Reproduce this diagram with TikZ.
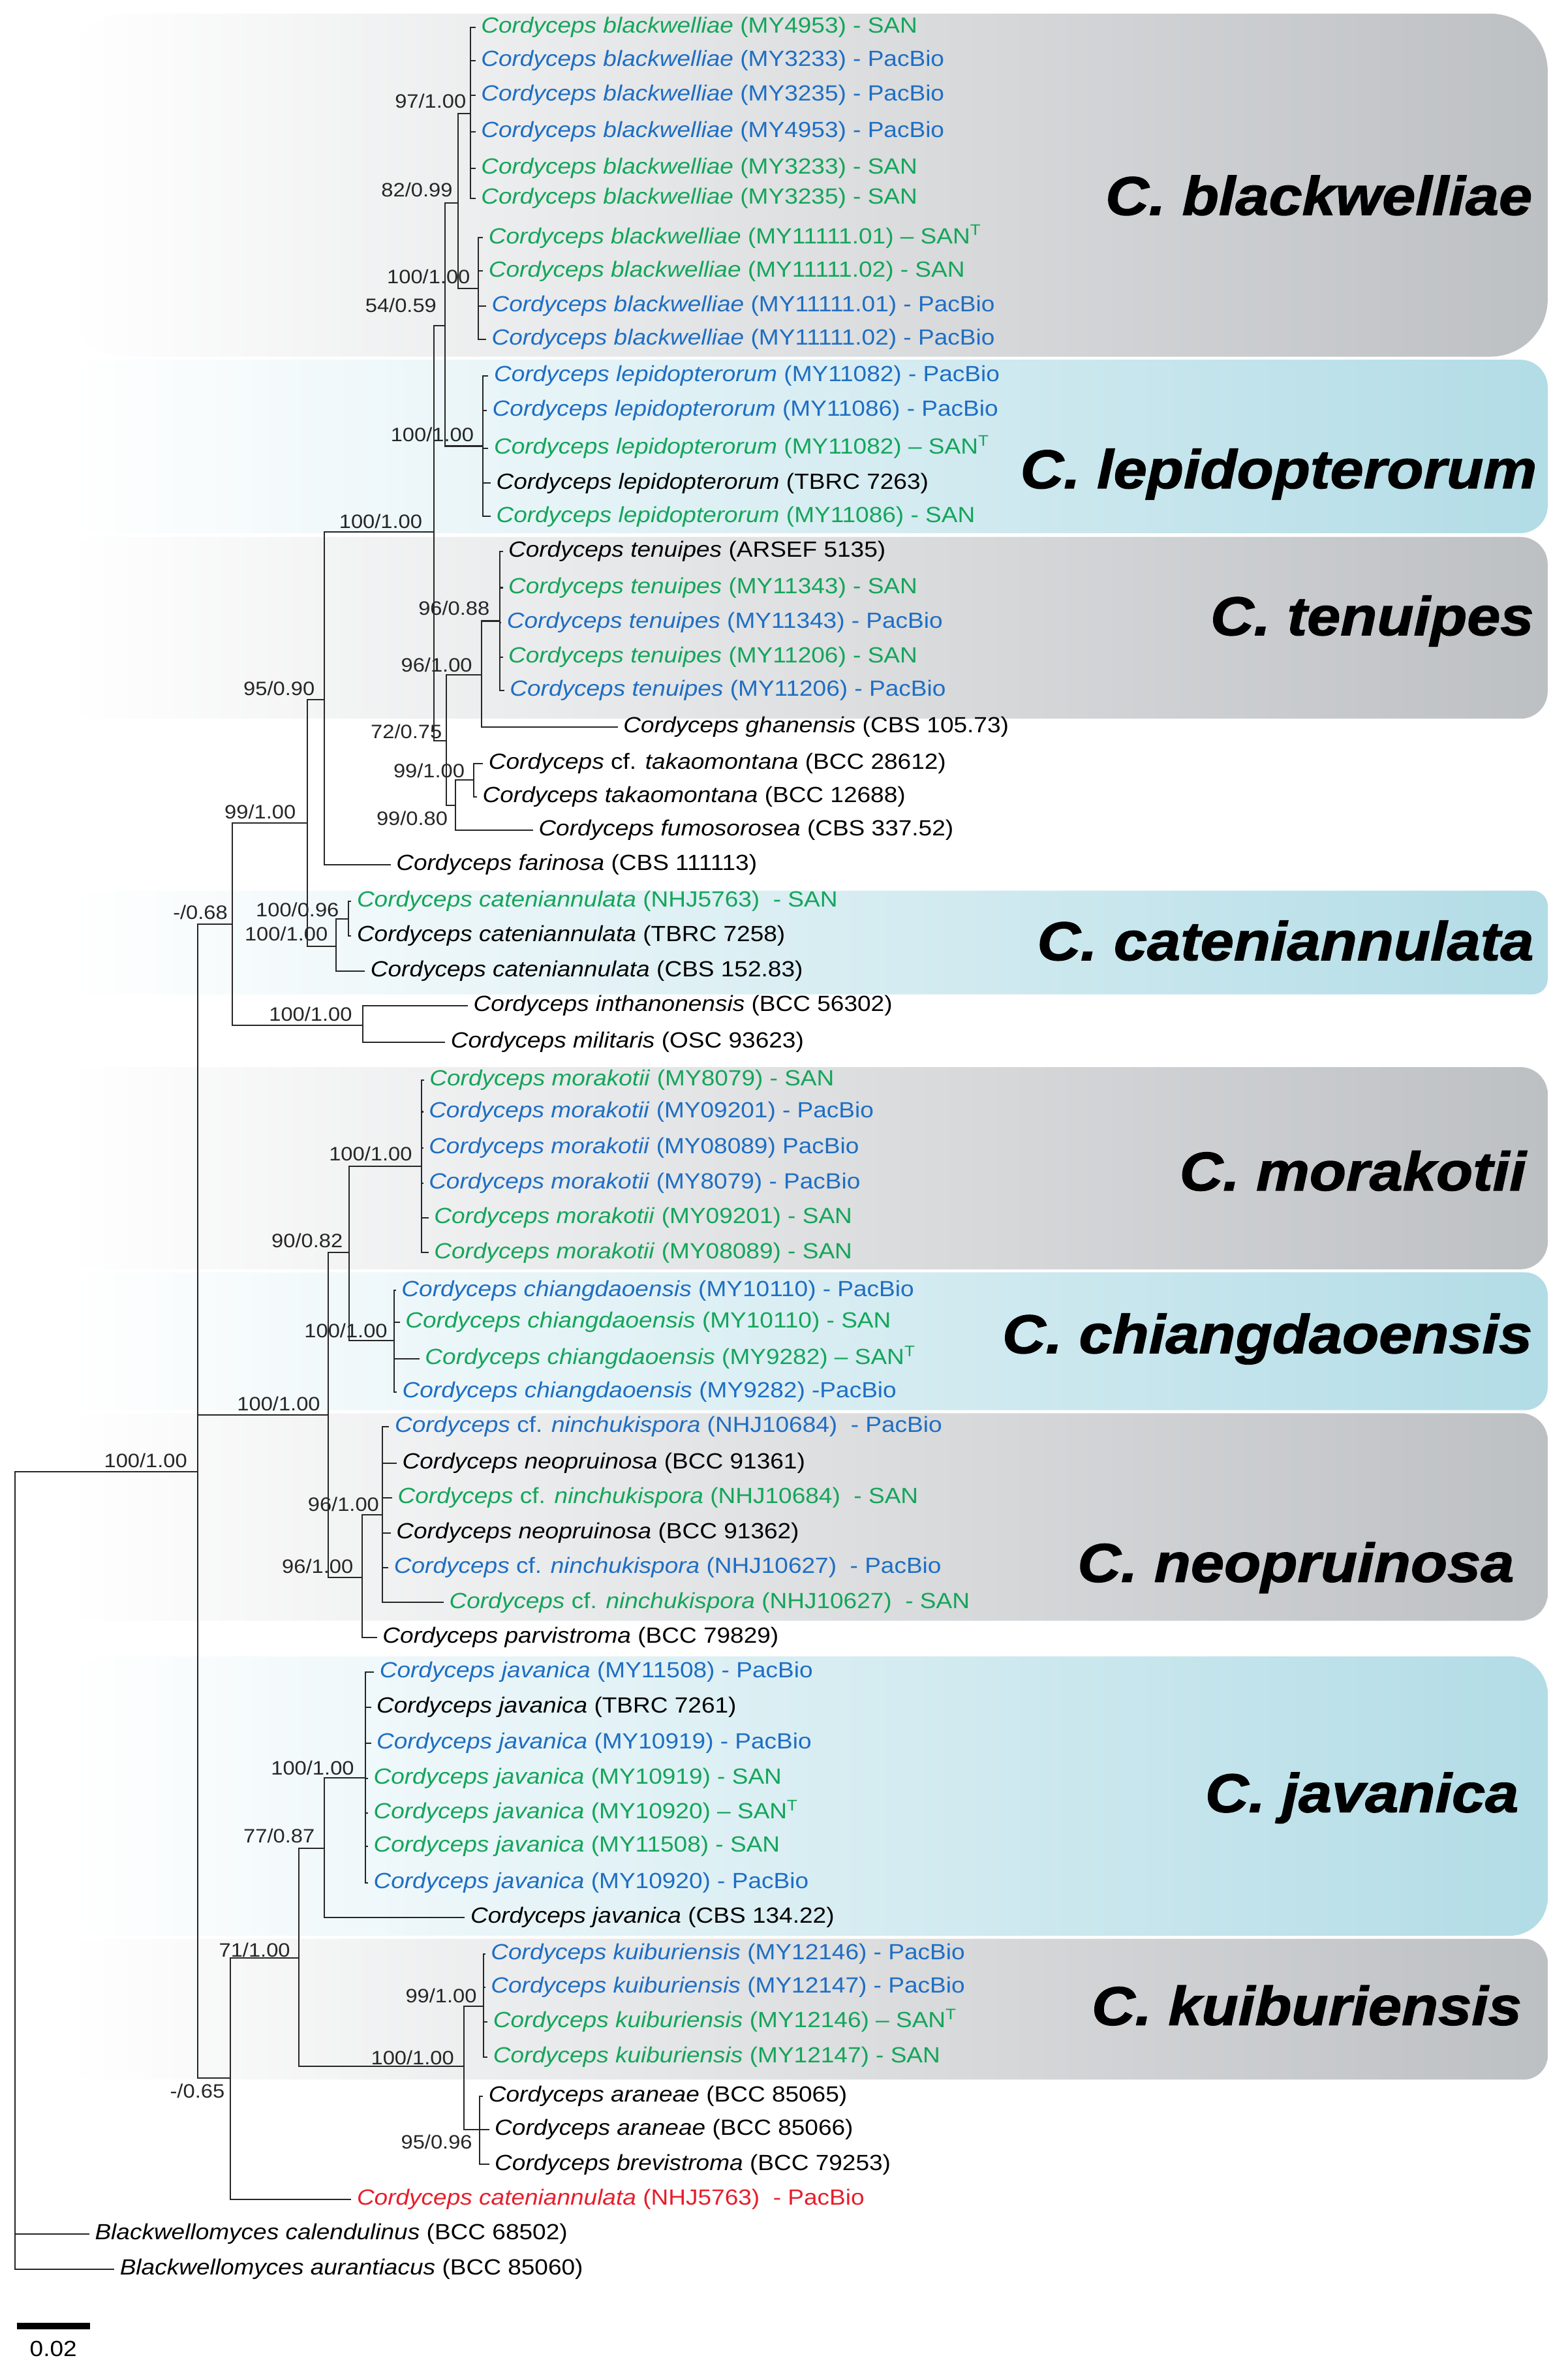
\documentclass[tikz,border=0pt]{standalone}
\usepackage{fontspec}
\setmainfont{Liberation Sans}[FakeStretch=1.1]
\newfontfamily\cladefont{Liberation Sans}[FakeStretch=1.1, FakeBold=1.6]
\usetikzlibrary{positioning}

\definecolor{sangreen}{RGB}{20,165,90}
\definecolor{pacblue}{RGB}{30,110,195}
\definecolor{oddred}{RGB}{230,30,45}
\definecolor{bandgray}{RGB}{189,192,195}
\definecolor{bandcyan}{RGB}{178,220,230}

\newcommand{\spn}[1]{\textit{Cordyceps #1}}
\newcommand{\cfn}[1]{\textit{Cordyceps} cf. \textit{#1}}

\tikzset{
  branch/.style={line width=0.9pt, draw=black!85},
  leaf/.style={anchor=west, inner xsep=3.5pt, inner ysep=0pt, text height=10.5pt, text depth=3pt,
    font=\fontsize{14.5}{16}\selectfont},
  san/.style={leaf, text=sangreen},
  pac/.style={leaf, text=pacblue},
  ref/.style={leaf, text=black},
  odd/.style={leaf, text=oddred},
  bs/.style={anchor=base east, inner sep=0pt, text=black!85, font=\fontsize{12.8}{14}\selectfont},
  clade/.style={anchor=east, inner sep=0pt, font=\cladefont\fontsize{36}{40}\selectfont\bfseries\itshape},
}

\begin{document}
\begin{tikzpicture}[x=1pt, y=-1pt]
    \useasboundingbox (0,0) rectangle (1035,1568);

    % clade bands
    \shade[left color=white, right color=bandgray, rounded corners=38pt] (45,9) rectangle (1022,235.5);
    \shade[left color=white, right color=bandcyan, rounded corners=18pt] (45,237.5) rectangle (1022,352);
    \shade[left color=white, right color=bandgray, rounded corners=18pt] (45,354.5) rectangle (1022,474.5);
    \shade[left color=white, right color=bandcyan, rounded corners=10pt] (45,588) rectangle (1022,656.5);
    \shade[left color=white, right color=bandgray, rounded corners=18pt] (45,704.5) rectangle (1022,838);
    \shade[left color=white, right color=bandcyan, rounded corners=15pt] (45,840) rectangle (1022,931);
    \shade[left color=white, right color=bandgray, rounded corners=18pt] (45,933) rectangle (1022,1070);
    \shade[left color=white, right color=bandcyan, rounded corners=25pt] (45,1093.5) rectangle (1022,1278);
    \shade[left color=white, right color=bandgray, rounded corners=16pt] (45,1280) rectangle (1022,1373);

    \node[clade] (cBw) at (1012,129) {C. blackwelliae};
    \node[clade] (cLep) at (1015,313) {C. lepidopterorum};
    \node[clade] (cTen) at (1013,410) {C. tenuipes};
    \node[clade] (cCat) at (1013,621) {C. cateniannulata};
    \node[clade] (cMor) at (1008,773) {C. morakotii};
    \node[clade] (cChi) at (1012,884) {C. chiangdaoensis};
    \node[clade] (cNeo) at (1000,1035) {C. neopruinosa};
    \node[clade] (cJav) at (1003,1187) {C. javanica};
    \node[clade] (cKui) at (1005,1324) {C. kuiburiensis};

    % internal nodes
    \coordinate (bwA) at (310.6,75);
    \coordinate (bwB) at (316,190.5);
    \coordinate (bw) at (302.5,134);
    \coordinate (lep) at (319,294.5);
    \coordinate (bwlep) at (294,215);
    \coordinate (ten) at (330,410);
    \coordinate (tengh) at (318,445.5);
    \coordinate (tak) at (313,515);
    \coordinate (takfum) at (300.7,531.7);
    \coordinate (tenfum) at (294.6,489);
    \coordinate (upper) at (286.4,351);
    \coordinate (upfar) at (214,462);
    \coordinate (catA) at (230,606.5);
    \coordinate (cat) at (222,624.8);
    \coordinate (upcat) at (203,543.5);
    \coordinate (intmil) at (239.4,677);
    \coordinate (grpI) at (153.5,610);
    \coordinate (mor) at (278.5,770);
    \coordinate (chi) at (260.4,885);
    \coordinate (morchi) at (230.7,827);
    \coordinate (neo) at (252.5,1000);
    \coordinate (neopar) at (239,1041.5);
    \coordinate (grpII) at (216.6,934);
    \coordinate (jav) at (241.3,1173.8);
    \coordinate (javcbs) at (214,1220.4);
    \coordinate (kui) at (319.3,1324.5);
    \coordinate (ara) at (316.8,1406);
    \coordinate (kuiara) at (306.2,1364.3);
    \coordinate (grpIIIa) at (197.3,1292.7);
    \coordinate (grpIII) at (152.2,1372);
    \coordinate (ingroup) at (130.7,971.6);
    \coordinate (root) at (10,1235);

    % taxa
    \node[san] (bw1) at (314,18) {\spn{blackwelliae} (MY4953) - SAN};
    \node[pac] (bw2) at (314,40) {\spn{blackwelliae} (MY3233) - PacBio};
    \node[pac] (bw3) at (314,63) {\spn{blackwelliae} (MY3235) - PacBio};
    \node[pac] (bw4) at (314,87) {\spn{blackwelliae} (MY4953) - PacBio};
    \node[san] (bw5) at (314,111) {\spn{blackwelliae} (MY3233) - SAN};
    \node[san] (bw6) at (314,131) {\spn{blackwelliae} (MY3235) - SAN};
    \node[san] (bw7) at (319,157) {\spn{blackwelliae} (MY11111.01) -- SAN\textsuperscript{T}};
    \node[san] (bw8) at (319,179) {\spn{blackwelliae} (MY11111.02) - SAN};
    \node[pac] (bw9) at (321,202) {\spn{blackwelliae} (MY11111.01) - PacBio};
    \node[pac] (bw10) at (321,224) {\spn{blackwelliae} (MY11111.02) - PacBio};

    \node[pac] (lep1) at (322.5,248) {\spn{lepidopterorum} (MY11082) - PacBio};
    \node[pac] (lep2) at (321.5,271) {\spn{lepidopterorum} (MY11086) - PacBio};
    \node[san] (lep3) at (322.5,296) {\spn{lepidopterorum} (MY11082) -- SAN\textsuperscript{T}};
    \node[ref] (lep4) at (324,319) {\spn{lepidopterorum} (TBRC 7263)};
    \node[san] (lep5) at (324,341) {\spn{lepidopterorum} (MY11086) - SAN};

    \node[ref] (ten1) at (332,364) {\spn{tenuipes} (ARSEF 5135)};
    \node[san] (ten2) at (332,388) {\spn{tenuipes} (MY11343) - SAN};
    \node[pac] (ten3) at (331,411) {\spn{tenuipes} (MY11343) - PacBio};
    \node[san] (ten4) at (332,434) {\spn{tenuipes} (MY11206) - SAN};
    \node[pac] (ten5) at (333,456) {\spn{tenuipes} (MY11206) - PacBio};
    \node[ref] (gha) at (408,480) {\spn{ghanensis} (CBS 105.73)};
    \node[ref] (tak1) at (319,504) {\cfn{takaomontana} (BCC 28612)};
    \node[ref] (tak2) at (315,526) {\spn{takaomontana} (BCC 12688)};
    \node[ref] (fum) at (352,548) {\spn{fumosorosea} (CBS 337.52)};
    \node[ref] (far) at (258,571) {\spn{farinosa} (CBS 111113)};

    \node[san] (cat1) at (232,595) {\spn{cateniannulata} (NHJ5763)\ \ - SAN};
    \node[ref] (cat2) at (232,618) {\spn{cateniannulata} (TBRC 7258)};
    \node[ref] (cat3) at (241,641) {\spn{cateniannulata} (CBS 152.83)};
    \node[ref] (int) at (309,664) {\spn{inthanonensis} (BCC 56302)};
    \node[ref] (mil) at (294,688) {\spn{militaris} (OSC 93623)};

    \node[san] (mor1) at (280,713) {\spn{morakotii} (MY8079) - SAN};
    \node[pac] (mor2) at (279.5,734) {\spn{morakotii} (MY09201) - PacBio};
    \node[pac] (mor3) at (279.5,758) {\spn{morakotii} (MY08089) PacBio};
    \node[pac] (mor4) at (279.5,781) {\spn{morakotii} (MY8079) - PacBio};
    \node[san] (mor5) at (283,804) {\spn{morakotii} (MY09201) - SAN};
    \node[san] (mor6) at (283,827) {\spn{morakotii} (MY08089) - SAN};

    \node[pac] (chi1) at (261.5,852) {\spn{chiangdaoensis} (MY10110) - PacBio};
    \node[san] (chi2) at (264,873) {\spn{chiangdaoensis} (MY10110) - SAN};
    \node[san] (chi3) at (277,897) {\spn{chiangdaoensis} (MY9282) -- SAN\textsuperscript{T}};
    \node[pac] (chi4) at (262,919) {\spn{chiangdaoensis} (MY9282) -PacBio};

    \node[pac] (neo1) at (257,942) {\cfn{ninchukispora} (NHJ10684)\ \ - PacBio};
    \node[ref] (neo2) at (262,966) {\spn{neopruinosa} (BCC 91361)};
    \node[san] (neo3) at (259,989) {\cfn{ninchukispora} (NHJ10684)\ \ - SAN};
    \node[ref] (neo4) at (258,1012) {\spn{neopruinosa} (BCC 91362)};
    \node[pac] (neo5) at (256.5,1035) {\cfn{ninchukispora} (NHJ10627)\ \ - PacBio};
    \node[san] (neo6) at (293,1058) {\cfn{ninchukispora} (NHJ10627)\ \ - SAN};
    \node[ref] (par) at (249,1081) {\spn{parvistroma} (BCC 79829)};

    \node[pac] (jav1) at (247,1104) {\spn{javanica} (MY11508) - PacBio};
    \node[ref] (jav2) at (245,1127) {\spn{javanica} (TBRC 7261)};
    \node[pac] (jav3) at (245,1151) {\spn{javanica} (MY10919) - PacBio};
    \node[san] (jav4) at (243,1174) {\spn{javanica} (MY10919) - SAN};
    \node[san] (jav5) at (243,1197) {\spn{javanica} (MY10920) -- SAN\textsuperscript{T}};
    \node[san] (jav6) at (243,1219) {\spn{javanica} (MY11508) - SAN};
    \node[pac] (jav7) at (243,1243) {\spn{javanica} (MY10920) - PacBio};
    \node[ref] (jav8) at (307,1266) {\spn{javanica} (CBS 134.22)};

    \node[pac] (kui1) at (320.5,1290) {\spn{kuiburiensis} (MY12146) - PacBio};
    \node[pac] (kui2) at (320.5,1312) {\spn{kuiburiensis} (MY12147) - PacBio};
    \node[san] (kui3) at (322,1335) {\spn{kuiburiensis} (MY12146) -- SAN\textsuperscript{T}};
    \node[san] (kui4) at (322,1358) {\spn{kuiburiensis} (MY12147) - SAN};
    \node[ref] (ara1) at (319,1384) {\spn{araneae} (BCC 85065)};
    \node[ref] (ara2) at (323,1406) {\spn{araneae} (BCC 85066)};
    \node[ref] (bre) at (323,1429) {\spn{brevistroma} (BCC 79253)};
    \node[odd] (catr) at (232,1452) {\spn{cateniannulata} (NHJ5763)\ \ - PacBio};
    \node[ref] (bcal) at (59,1475) {\textit{Blackwellomyces calendulinus} (BCC 68502)};
    \node[ref] (baur) at (75.5,1498) {\textit{Blackwellomyces aurantiacus} (BCC 85060)};

    % branches
    \foreach \p/\c in {bwA/bw1, bwA/bw2, bwA/bw3, bwA/bw4, bwA/bw5, bwA/bw6,
        bwB/bw7, bwB/bw8, bwB/bw9, bwB/bw10, bw/bwA, bw/bwB,
        lep/lep1, lep/lep2, lep/lep3, lep/lep4, lep/lep5, bwlep/bw, bwlep/lep,
        ten/ten1, ten/ten2, ten/ten3, ten/ten4, ten/ten5, tengh/ten, tengh/gha,
        tak/tak1, tak/tak2, takfum/tak, takfum/fum, tenfum/tengh, tenfum/takfum,
        upper/bwlep, upper/tenfum, upfar/upper, upfar/far,
        catA/cat1, catA/cat2, cat/catA, cat/cat3, upcat/upfar, upcat/cat,
        intmil/int, intmil/mil, grpI/upcat, grpI/intmil,
        mor/mor1, mor/mor2, mor/mor3, mor/mor4, mor/mor5, mor/mor6,
        chi/chi1, chi/chi2, chi/chi3, chi/chi4, morchi/mor, morchi/chi,
        neo/neo1, neo/neo2, neo/neo3, neo/neo4, neo/neo5, neo/neo6,
        neopar/neo, neopar/par, grpII/morchi, grpII/neopar,
        jav/jav1, jav/jav2, jav/jav3, jav/jav4, jav/jav5, jav/jav6, jav/jav7,
        javcbs/jav, javcbs/jav8,
        kui/kui1, kui/kui2, kui/kui3, kui/kui4, ara/ara1, ara/ara2, ara/bre,
        kuiara/kui, kuiara/ara, grpIIIa/javcbs, grpIIIa/kuiara,
        grpIII/grpIIIa, grpIII/catr,
        ingroup/grpI, ingroup/grpII, ingroup/grpIII,
        root/ingroup, root/bcal, root/baur}
        \draw[branch] (\p) |- (\c);

    % support values
    \node[bs] (sBwA) at (308,71.5) {97/1.00};
    \node[bs] (sBw) at (299,130) {82/0.99};
    \node[bs] (sBwB) at (310.6,187.4) {100/1.00};
    \node[bs] (sBwlep) at (288.4,206.3) {54/0.59};
    \node[bs] (sLep) at (313,291.5) {100/1.00};
    \node[bs] (sUpper) at (279,348.8) {100/1.00};
    \node[bs] (sTen) at (323.5,406) {96/0.88};
    \node[bs] (sTengh) at (312,443.5) {96/1.00};
    \node[bs] (sUpfar) at (208,459) {95/0.90};
    \node[bs] (sTenfum) at (292,487.5) {72/0.75};
    \node[bs] (sTak) at (307,513.5) {99/1.00};
    \node[bs] (sTakfum) at (295.8,545) {99/0.80};
    \node[bs] (sUpcat) at (195.5,540.5) {99/1.00};
    \node[bs] (sGrpI) at (150.5,607) {-/0.68};
    \node[bs] (sCatA) at (224,605) {100/0.96};
    \node[bs] (sCat) at (216.6,621.3) {100/1.00};
    \node[bs] (sIntmil) at (232.7,674) {100/1.00};
    \node[bs] (sMor) at (272.3,766.4) {100/1.00};
    \node[bs] (sMorchi) at (226.5,823.8) {90/0.82};
    \node[bs] (sChi) at (256,883) {100/1.00};
    \node[bs] (sGrpII) at (211.6,931.3) {100/1.00};
    \node[bs] (sIngroup) at (123.8,969) {100/1.00};
    \node[bs] (sNeo) at (250.5,997.5) {96/1.00};
    \node[bs] (sNeopar) at (233.4,1038.8) {96/1.00};
    \node[bs] (sJav) at (234,1171.7) {100/1.00};
    \node[bs] (sJavcbs) at (208,1216.5) {77/0.87};
    \node[bs] (sGrpIIIa) at (191.8,1291.8) {71/1.00};
    \node[bs] (sKui) at (315,1322.2) {99/1.00};
    \node[bs] (sKuiara) at (300,1362.9) {100/1.00};
    \node[bs] (sAra) at (312,1418.5) {95/0.96};
    \node[bs] (sGrpIII) at (148.5,1385) {-/0.65};

    % scale bar
    \coordinate (sbL) at (11,1535.5);
    \coordinate (sbR) at (59.4,1535.5);
    \draw[line width=4.4pt] (sbL) -- (sbR)
        node[midway, below=8pt, inner sep=0pt, font=\fontsize{14.5}{16}\selectfont] (sbLabel) {0.02};
\end{tikzpicture}
\end{document}
